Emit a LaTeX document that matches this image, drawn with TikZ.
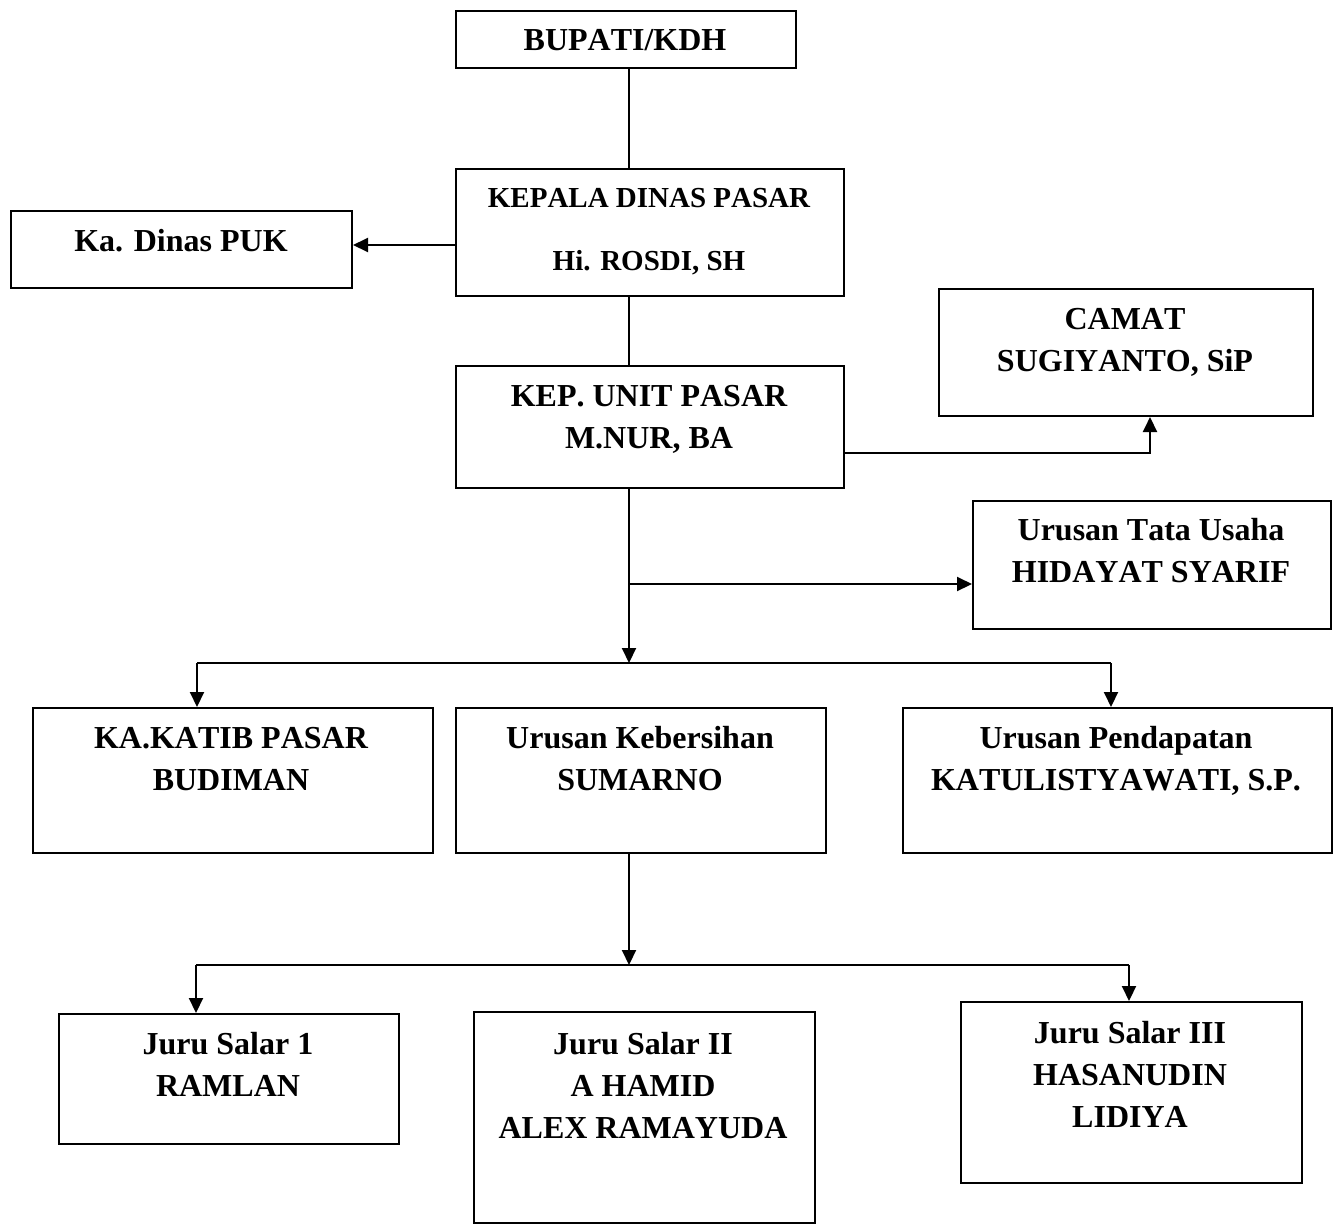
\documentclass[tikz,border=0pt]{standalone}
\usepackage{fontspec}
\setmainfont{Liberation Serif}[Kerning=Off]
\usetikzlibrary{arrows.meta}
\begin{document}
\begin{tikzpicture}[x=1pt,y=-1pt,
  box/.style={draw, line width=2pt, inner sep=0, anchor=north west},
  lbl/.style={font=\fontsize{32}{42}\selectfont\bfseries, align=center, inner sep=0, anchor=base},
  lblk/.style={font=\fontsize{29}{63}\selectfont\bfseries, align=center, inner sep=0, anchor=base},
  conn/.style={line width=2pt},
  arr/.style={line width=2pt, -{Triangle[length=15pt,width=14pt]}}]
\useasboundingbox (0,0) rectangle (1338,1224);
% boxes
\node[box, minimum width=340, minimum height=57] (bupati) at (455,10) {};
\node[box, minimum width=388, minimum height=127] (kadis) at (455,168) {};
\node[box, minimum width=341, minimum height=77] (puk) at (10,210) {};
\node[box, minimum width=374, minimum height=127] (camat) at (938,288) {};
\node[box, minimum width=388, minimum height=122] (unit) at (455,365) {};
\node[box, minimum width=358, minimum height=128] (tu) at (972,500) {};
\node[box, minimum width=400, minimum height=145] (katib) at (32,707) {};
\node[box, minimum width=370, minimum height=145] (keb) at (455,707) {};
\node[box, minimum width=429, minimum height=145] (pend) at (902,707) {};
\node[box, minimum width=340, minimum height=130] (js1) at (58,1013) {};
\node[box, minimum width=341, minimum height=211] (js2) at (473,1011) {};
\node[box, minimum width=341, minimum height=181] (js3) at (960,1001) {};
% texts (positioned by last baseline)
\node[lbl] (tBupati) at (625,50) {BUPATI/KDH};
\node[lblk] (tKadis) at (649,270) {KEPALA DINAS PASAR\\Hi. ROSDI, SH};
\node[lbl] (tPuk) at (181,251) {Ka. Dinas PUK};
\node[lbl] (tCamat) at (1125,371) {CAMAT\\SUGIYANTO, SiP};
\node[lbl] (tUnit) at (649,448) {KEP. UNIT PASAR\\M.NUR, BA};
\node[lbl] (tTu) at (1151,582) {Urusan Tata Usaha\\HIDAYAT SYARIF};
\node[lbl] (tKatib) at (231,790) {KA.KATIB PASAR\\BUDIMAN};
\node[lbl] (tKeb) at (640,790) {Urusan Kebersihan\\SUMARNO};
\node[lbl] (tPend) at (1116,790) {Urusan Pendapatan\\KATULISTYAWATI, S.P.};
\node[lbl] (tJs1) at (228,1096) {Juru Salar 1\\RAMLAN};
\node[lbl] (tJs2) at (643,1138) {Juru Salar II\\A HAMID\\ALEX RAMAYUDA};
\node[lbl] (tJs3) at (1130,1127) {Juru Salar III\\HASANUDIN\\LIDIYA};
% reference coordinates
\coordinate (xm) at (629,0);
\coordinate (ypuk) at (0,245);
\coordinate (ycam) at (0,453);
\coordinate (xcam) at (1150,0);
\coordinate (ytu) at (0,584);
\coordinate (bus1) at (629,663);
\coordinate (bus1L) at (197,663);
\coordinate (bus1R) at (1111,663);
\coordinate (bus2) at (629,965);
\coordinate (bus2L) at (196,965);
\coordinate (bus2R) at (1129,965);
% connectors
\draw[conn] (bupati.south -| xm) -- (kadis.north -| xm);
\draw[arr] (kadis.west |- ypuk) -- (puk.east |- ypuk);
\draw[conn] (kadis.south -| xm) -- (unit.north -| xm);
\draw[arr] (unit.east |- ycam) -| (camat.south -| xcam);
\draw[arr] (unit.south -| xm) -- (bus1);
\draw[arr] (xm |- ytu) -- (tu.west |- ytu);
\draw[conn] (bus1L) -- (bus1R);
\draw[arr] (bus1L) -- (katib.north -| bus1L);
\draw[arr] (bus1R) -- (pend.north -| bus1R);
\draw[arr] (keb.south -| xm) -- (bus2);
\draw[conn] (bus2L) -- (bus2R);
\draw[arr] (bus2L) -- (js1.north -| bus2L);
\draw[arr] (bus2R) -- (js3.north -| bus2R);
\end{tikzpicture}
\end{document}
